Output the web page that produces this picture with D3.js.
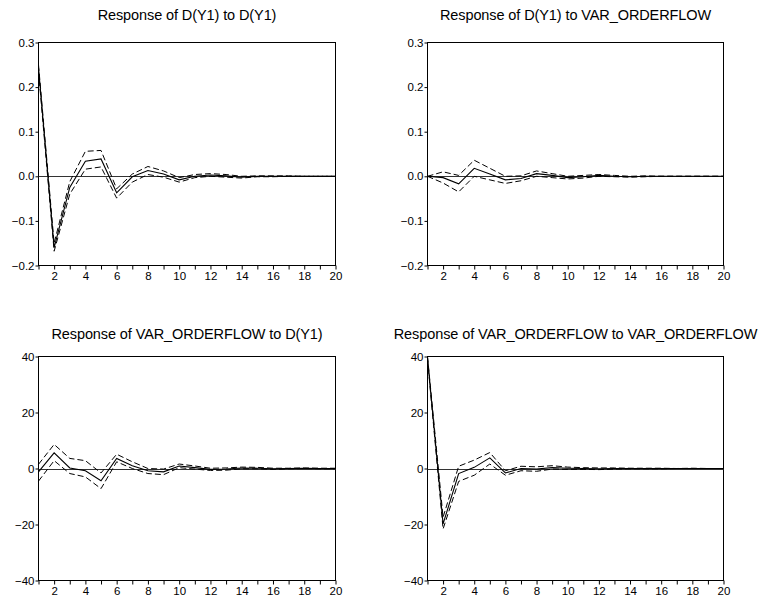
<!DOCTYPE html>
<html>
<head>
<meta charset="utf-8">
<script src="https://cdn.jsdelivr.net/npm/d3@7"></script>
<style>
  html, body { margin: 0; padding: 0; background: #fff; }
  svg { display: block; font-family: "Liberation Sans", Arial, sans-serif; }
</style>
</head>
<body>
<svg id="chart" width="765" height="603"></svg>
<script>
// ---- Data ----
const periods = d3.range(1, 21);
const xTickValues = d3.range(1, 21);
const xTickLabels = ["", "2", "", "4", "", "6", "", "8", "", "10", "", "12", "", "14", "", "16", "", "18", "", "20"];

const titles = [
  "Response of D(Y1) to D(Y1)",
  "Response of D(Y1) to VAR_ORDERFLOW",
  "Response of VAR_ORDERFLOW to D(Y1)",
  "Response of VAR_ORDERFLOW to VAR_ORDERFLOW"
];

const yTicksTop = [-0.2, -0.1, 0.0, 0.1, 0.2, 0.3];
const yTicksBottom = [-40, -20, 0, 20, 40];

// Panel 1: D(Y1) to D(Y1)
const p1Resp  = [0.243, -0.160, -0.025, 0.034, 0.039, -0.037, -0.001, 0.013, 0.005, -0.008, 0.000, 0.003, 0.001, -0.002, 0.000, 0.000, 0.000, 0.000, 0.000, 0.000];
const p1Upper = [0.250, -0.150, -0.012, 0.056, 0.058, -0.028, 0.005, 0.022, 0.012, -0.003, 0.004, 0.006, 0.004, 0.000, 0.001, 0.001, 0.001, 0.000, 0.000, 0.000];
const p1Lower = [0.236, -0.168, -0.040, 0.016, 0.021, -0.049, -0.013, 0.004, -0.002, -0.013, -0.003, 0.000, -0.002, -0.004, -0.001, -0.001, 0.000, 0.000, 0.000, 0.000];

// Panel 2: D(Y1) to VAR_ORDERFLOW
const p2Resp  = [0.000, -0.003, -0.017, 0.018, 0.005, -0.008, -0.005, 0.006, 0.002, -0.003, -0.001, 0.002, 0.000, -0.001, 0.000, 0.000, 0.000, 0.000, 0.000, 0.000];
const p2Upper = [0.000, 0.010, 0.002, 0.036, 0.018, 0.000, 0.001, 0.012, 0.006, 0.000, 0.002, 0.004, 0.002, 0.000, 0.001, 0.000, 0.000, 0.000, 0.000, 0.000];
const p2Lower = [0.000, -0.015, -0.035, 0.000, -0.008, -0.016, -0.010, 0.000, -0.003, -0.006, -0.004, 0.000, -0.001, -0.002, -0.001, 0.000, 0.000, 0.000, 0.000, 0.000];

// Panel 3: VAR_ORDERFLOW to D(Y1)
const p3Resp  = [-1.2, 5.6, 0.2, -0.8, -4.4, 3.6, 1.0, -0.8, -1.2, 0.9, 0.3, -0.3, -0.2, 0.2, 0.1, -0.1, 0.0, 0.1, 0.0, 0.0];
const p3Upper = [1.5, 8.6, 3.6, 2.8, -1.6, 5.1, 2.4, 0.0, -0.2, 1.6, 0.9, 0.1, 0.2, 0.5, 0.4, 0.1, 0.1, 0.2, 0.1, 0.1];
const p3Lower = [-4.5, 2.8, -1.8, -3.0, -7.2, 2.4, 0.0, -1.8, -2.2, 0.3, -0.2, -0.7, -0.6, -0.1, -0.1, -0.3, -0.1, 0.0, -0.1, -0.1];

// Panel 4: VAR_ORDERFLOW to VAR_ORDERFLOW
const p4Resp  = [39.5, -19.8, -1.8, 0.4, 3.8, -1.6, 0.0, -0.2, 0.3, 0.1, 0.0, -0.1, 0.0, 0.0, 0.0, 0.0, 0.0, 0.0, 0.0, 0.0];
const p4Upper = [40.0, -17.4, 0.8, 3.0, 5.7, -0.8, 0.8, 0.6, 1.0, 0.5, 0.3, 0.2, 0.2, 0.1, 0.1, 0.1, 0.0, 0.1, 0.0, 0.0];
const p4Lower = [39.0, -21.6, -4.6, -2.4, 1.6, -2.4, -0.8, -1.0, -0.2, -0.3, -0.3, -0.4, -0.2, -0.1, -0.1, -0.1, 0.0, 0.0, 0.0, 0.0];

// ---- Layout ----
const panels = [
  { left: 38.5,  right: 335.5, top: 42.5,  bottom: 265.5, yDomain: [-0.2, 0.3], yTicks: yTicksTop,    fmt: d3.format(".1f"), resp: p1Resp, upper: p1Upper, lower: p1Lower, title: titles[0], titleY: 20 },
  { left: 427.5, right: 723.5, top: 42.5,  bottom: 265.5, yDomain: [-0.2, 0.3], yTicks: yTicksTop,    fmt: d3.format(".1f"), resp: p2Resp, upper: p2Upper, lower: p2Lower, title: titles[1], titleY: 20 },
  { left: 38.5,  right: 335.5, top: 356.5, bottom: 580.5, yDomain: [-40, 40],   yTicks: yTicksBottom, fmt: d3.format("d"),   resp: p3Resp, upper: p3Upper, lower: p3Lower, title: titles[2], titleY: 339 },
  { left: 427.5, right: 723.5, top: 356.5, bottom: 580.5, yDomain: [-40, 40],   yTicks: yTicksBottom, fmt: d3.format("d"),   resp: p4Resp, upper: p4Upper, lower: p4Lower, title: titles[3], titleY: 339 }
];

const svg = d3.select("#chart");

panels.forEach(p => {
  const g = svg.append("g");
  const x = d3.scaleLinear().domain([1, 20]).range([p.left, p.right]);
  const y = d3.scaleLinear().domain(p.yDomain).range([p.bottom, p.top]);

  // Title
  g.append("text")
    .attr("x", (p.left + p.right) / 2)
    .attr("y", p.titleY)
    .attr("text-anchor", "middle")
    .attr("font-size", 14.5)
    .attr("letter-spacing", -0.1)
    .attr("fill", "#000")
    .text(p.title);

  // Frame
  g.append("rect")
    .attr("x", p.left).attr("y", p.top)
    .attr("width", p.right - p.left).attr("height", p.bottom - p.top)
    .attr("fill", "none").attr("stroke", "#000").attr("stroke-width", 1);

  // Zero line
  g.append("line")
    .attr("x1", p.left).attr("x2", p.right)
    .attr("y1", Math.round(y(0)) + 0.5).attr("y2", Math.round(y(0)) + 0.5)
    .attr("stroke", "#333").attr("stroke-width", 1);

  // Axes
  const xAxis = d3.axisBottom(x)
    .tickValues(xTickValues)
    .tickFormat((d, i) => xTickLabels[i])
    .tickSize(4).tickSizeOuter(0).tickPadding(2);
  const gx = g.append("g").attr("transform", `translate(0,${p.bottom})`).call(xAxis);
  gx.select(".domain").remove();

  const yAxis = d3.axisLeft(y)
    .tickValues(p.yTicks)
    .tickFormat(p.fmt)
    .tickSize(3).tickSizeOuter(0).tickPadding(1);
  const gy = g.append("g").attr("transform", `translate(${p.left},0)`).call(yAxis);
  gy.select(".domain").remove();

  [gx, gy].forEach(a => {
    a.selectAll("text").attr("font-size", 11.5).attr("fill", "#000")
      .attr("font-family", "Liberation Sans, Arial, sans-serif");
    a.selectAll(".tick line").attr("stroke", "#000");
  });

  // Lines
  const line = d3.line().x((d, i) => x(periods[i])).y(d => y(d));
  g.append("path").datum(p.upper).attr("d", line)
    .attr("fill", "none").attr("stroke", "#000").attr("stroke-width", 1)
    .attr("stroke-dasharray", "6,3");
  g.append("path").datum(p.lower).attr("d", line)
    .attr("fill", "none").attr("stroke", "#000").attr("stroke-width", 1)
    .attr("stroke-dasharray", "6,3");
  g.append("path").datum(p.resp).attr("d", line)
    .attr("fill", "none").attr("stroke", "#000").attr("stroke-width", 1.1);
});
</script>
</body>
</html>
